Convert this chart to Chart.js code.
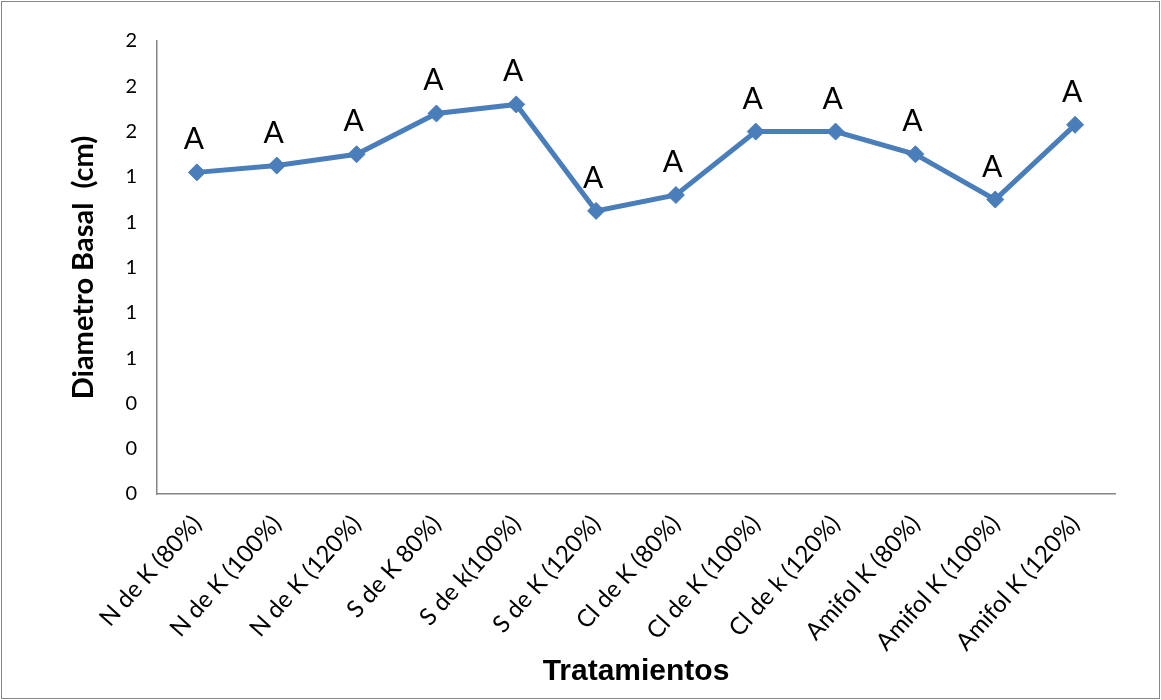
<!DOCTYPE html>
<html>
<head>
<meta charset="utf-8">
<script src="https://cdn.jsdelivr.net/npm/chart.js@4/dist/chart.umd.min.js"></script>
<style>
  body { margin: 0; background: #fff; }
  canvas { display: block; }
</style>
</head>
<body>
<canvas id="grafico" width="1161" height="700"></canvas>
<script>
// tratamientos y diametro basal medio (cm)
const tratamientos = [
    'N de K (80%)', 'N de K (100%)', 'N de K (120%)', 'S de K 80%)',
    'S de k(100%)', 'S de K (120%)', 'Cl de K (80%)', 'Cl de K (100%)',
    'Cl de k (120%)', 'Amifol K (80%)', 'Amifol K (100%)', 'Amifol K (120%)'
];
const diametro = [1.42, 1.45, 1.50, 1.68, 1.72, 1.25, 1.32, 1.60, 1.60, 1.50, 1.30, 1.63];
const letras = ['A', 'A', 'A', 'A', 'A', 'A', 'A', 'A', 'A', 'A', 'A', 'A'];
const yMin = 0, yMax = 2, yPaso = 0.2;

const fuente = 'Lato, "Open Sans", sans-serif';

// letras de significancia encima de cada punto
const letrasPlugin = {
    id: 'letras',
    afterDatasetsDraw(chart) {
        const ctx = chart.ctx;
        const meta = chart.getDatasetMeta(0);
        ctx.save();
        ctx.font = '30px ' + fuente;
        ctx.fillStyle = '#000';
        ctx.textAlign = 'center';
        ctx.textBaseline = 'alphabetic';
        meta.data.forEach(function(pt, i) {
            ctx.fillText(letras[i], pt.x - 3, pt.y - 23);
        });
        ctx.restore();
    }
};

// fondo blanco y marco del grafico
const marcoPlugin = {
    id: 'marco',
    beforeDraw(chart) {
        const ctx = chart.ctx;
        ctx.save();
        ctx.fillStyle = '#fff';
        ctx.fillRect(0, 0, chart.width, chart.height);
        ctx.strokeStyle = '#868686';
        ctx.lineWidth = 1;
        ctx.strokeRect(1.5, 1.5, chart.width - 3, chart.height - 3);
        ctx.restore();
    }
};

new Chart(document.getElementById('grafico').getContext('2d'), {
    type: 'line',
    data: {
        labels: tratamientos,
        datasets: [{
            data: diametro,
            borderColor: '#4a7ebb',
            backgroundColor: '#4a7ebb',
            borderWidth: 5,
            pointStyle: 'rectRot',
            pointRadius: 8.5,
            pointBorderWidth: 1,
            tension: 0
        }]
    },
    options: {
        responsive: false,
        animation: false,
        layout: { padding: { top: 41, right: 46, left: 0, bottom: 0 } },
        plugins: {
            legend: { display: false },
            tooltip: { enabled: false }
        },
        scales: {
            x: {
                offset: true,
                grid: { display: false, drawTicks: false },
                border: { display: true, color: '#868686', width: 1.5 },
                ticks: {
                    color: '#000',
                    font: { family: fuente, size: 24 },
                    minRotation: 48,
                    maxRotation: 48,
                    padding: 16
                },
                title: {
                    display: true,
                    text: 'Tratamientos',
                    color: '#000',
                    font: { family: '"Liberation Sans", Arial, sans-serif', size: 30, weight: 'bold' },
                    padding: { top: 0, bottom: 10 }
                },
                afterFit: function(scale) { scale.height = 206; }
            },
            y: {
                min: yMin,
                max: yMax,
                grid: { display: false, drawTicks: false },
                border: { display: true, color: '#868686', width: 1.5 },
                ticks: {
                    stepSize: yPaso,
                    color: '#000',
                    font: { family: fuente, size: 20 },
                    padding: 20,
                    callback: function(v) { return Math.round(v); }
                },
                title: {
                    display: true,
                    text: 'Diametro Basal  (cm)',
                    color: '#000',
                    font: { family: fuente, size: 29, weight: 'bold' },
                    padding: { top: 66, bottom: 0 }
                },
                afterFit: function(scale) { scale.width = 157; }
            }
        }
    },
    plugins: [marcoPlugin, letrasPlugin]
});
</script>
</body>
</html>
